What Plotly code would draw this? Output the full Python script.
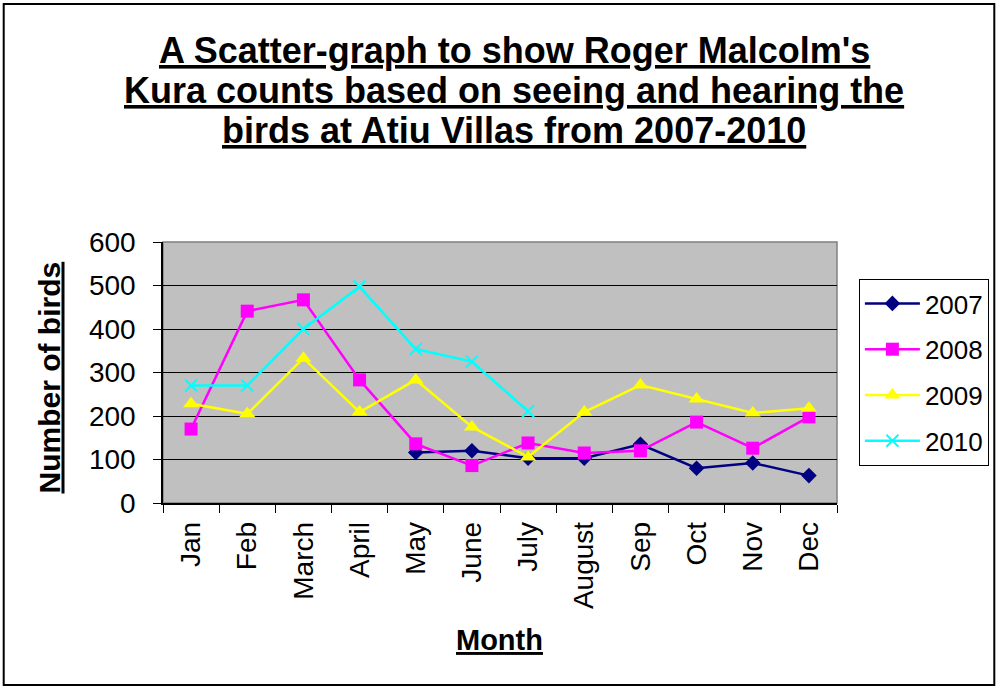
import plotly.graph_objects as go

months = ["Jan", "Feb", "March", "April", "May", "June", "July",
          "August", "Sep", "Oct", "Nov", "Dec"]
y2007 = [None, None, None, None, 116, 120, 103, 103, 135, 80, 92, 63]
y2008 = [170, 441, 467, 283, 136, 86, 138, 115, 120, 186, 126, 198]
y2009 = [228, 205, 333, 209, 283, 175, 106, 209, 271, 239, 207, 218]
y2010 = [270, 270, 400, 497, 354, 325, 211, None, None, None, None, None]
y_ticks = [0, 100, 200, 300, 400, 500, 600]

W, H = 1001, 688
L, R, T, B = 163, 161, 242, 185
PW, PH = W - L - R, H - T - B

def px(x):
    return (x - L) / PW

def py(y):
    return (H - B - y) / PH

FONT = "Liberation Sans, Arial, sans-serif"

fig = go.Figure()
series = [
    ("2007", y2007, "#000080", "diamond", 12),
    ("2008", y2008, "#FF00FF", "square", 13),
    ("2009", y2009, "#FFFF00", "triangle-up", 14),
    ("2010", y2010, "#00FFFF", "x-thin", 12),
]
for name, vals, col, sym, sz in series:
    fig.add_trace(go.Scatter(
        x=months, y=vals, name=name, mode="lines+markers",
        legendgroup=name,
        line=dict(color=col, width=2.5),
        marker=dict(symbol=sym, size=sz, color=col,
                    line=dict(color=col, width=2 if sym == "x-thin" else 0)),
        connectgaps=False,
    ))

fig.update_layout(
    width=W, height=H,
    margin=dict(l=L, r=R, t=T, b=B),
    paper_bgcolor="white",
    plot_bgcolor="#C0C0C0",
    font=dict(family=FONT, color="black", size=26),
    showlegend=True,
    legend=dict(
        x=px(862), y=py(279), xanchor="left", yanchor="top",
        bgcolor="white", bordercolor="black", borderwidth=1,
        font=dict(size=26, family=FONT), tracegroupgap=9,
        traceorder="grouped", itemwidth=55,
    ),
    xaxis=dict(
        type="category", categoryorder="array", categoryarray=months,
        range=[-0.5, 11.5],
        tickson="boundaries", ticks="outside", ticklen=8, tickcolor="black",
        tickangle=-90, showgrid=False, showline=True, linecolor="black",
        linewidth=1.5, tickfont=dict(size=28, family=FONT), zeroline=False,
        ticklabelstandoff=6,
    ),
    yaxis=dict(
        range=[0, 600], tickvals=y_ticks, ticks="outside", ticklen=8,
        tickcolor="black", showgrid=True, gridcolor="black", gridwidth=1,
        showline=True, linecolor="black", linewidth=1.5, zeroline=False,
        tickfont=dict(size=28, family=FONT), ticklabelstandoff=12,
    ),
)

# plot border (top/right grey)
fig.add_shape(type="rect", xref="paper", yref="paper", x0=0, x1=1, y0=0, y1=1,
              line=dict(color="#808080", width=1.5), layer="below")
# outer image border
fig.add_shape(type="rect", xref="paper", yref="paper",
              x0=px(3), x1=px(998), y0=py(685), y1=py(4),
              line=dict(color="black", width=2))

title_lines = [
    ("A Scatter-graph to show Roger Malcolm's", 50),
    ("Kura counts based on seeing and hearing the", 90),
    ("birds at Atiu Villas from 2007-2010", 130),
]
for txt, ypix in title_lines:
    fig.add_annotation(text="<b><u>" + txt + "</u></b>", xref="paper", yref="paper",
                       x=px(516), y=py(ypix), xanchor="center", yanchor="middle",
                       showarrow=False, font=dict(size=36, family=FONT, color="black"))

fig.add_annotation(text="<b><u>Number of birds</u></b>", xref="paper", yref="paper",
                   x=px(48), y=py(378), xanchor="center", yanchor="middle",
                   textangle=-90, showarrow=False,
                   font=dict(size=30, family=FONT, color="black"))
fig.add_annotation(text="<b><u>Month</u></b>", xref="paper", yref="paper",
                   x=px(501), y=py(640), xanchor="center", yanchor="middle",
                   showarrow=False, font=dict(size=29, family=FONT, color="black"))

fig.write_html("out.html", config={"displayModeBar": False},
               post_script="document.body.style.margin='0';")
